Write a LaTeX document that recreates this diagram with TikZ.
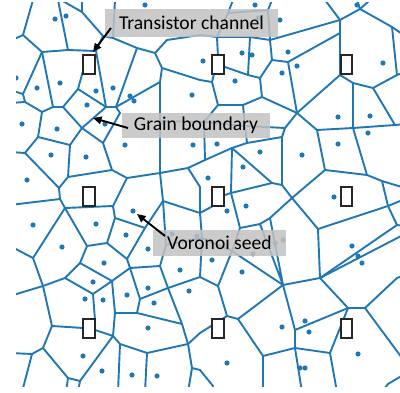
\documentclass[tikz,border=0pt]{standalone}
\usepackage{fontspec}
\setmainfont{Carlito}
\usetikzlibrary{arrows.meta}
\definecolor{vblue}{RGB}{31,119,180}
\begin{document}
\begin{tikzpicture}[x=1pt,y=-1pt,
  cell/.style={draw=vblue, line width=1.9pt, line join=round, line cap=round},
  seed/.style={fill=vblue},
  chan/.style={draw=black!85, line width=1.6pt, fill=white, minimum width=11.5pt, minimum height=19pt, inner sep=0pt},
  lbl/.style={fill=black!24, fill opacity=0.85, text opacity=1, inner sep=0pt, font=\fontsize{19.6}{22}\selectfont},
  ptr/.style={-{Triangle[length=8.5pt,width=7.5pt]}, line width=1.9pt, black}]
\useasboundingbox (0,0) rectangle (400,393);

\begin{scope}
\clip (16,3) rectangle (400,387);
% Voronoi cell boundaries
\draw[cell] (33,0)--(23,35)--(42,52)--(68,50)--(96,51)--(103,36)--(113,38)--(137,48)--(155,53)--(167,40)--(200,35)--(217,37)--(250,37)--(270,40)--(340,20);
\draw[cell] (23,35)--(10,41);
\draw[cell] (58,0)--(68,50);
\draw[cell] (61,0)--(82,12)--(103,36);
\draw[cell] (82,0)--(82,12);
\draw[cell] (113,38)--(115,0);
\draw[cell] (96,51)--(106,107);
\draw[cell] (137,48)--(116,107);
\draw[cell] (155,53)--(162,68)--(200,80)--(212,82);
\draw[cell] (162,68)--(160,82)--(160,121)--(160,173)--(163,201);
\draw[cell] (42,52)--(53,107);
\draw[cell] (42,52)--(23,94)--(25,102)--(42,112)--(53,107)--(63,107)--(78,89)--(85,64);
\draw[cell] (23,94)--(10,90);
\draw[cell] (25,102)--(10,103);
\draw[cell] (78,89)--(106,107)--(116,107)--(120,113)--(103,143);
\draw[cell] (63,107)--(82,128)--(106,107);
\draw[cell] (82,128)--(103,143)--(112,170);
\draw[cell] (42,112)--(38,137)--(70,145)--(82,128);
\draw[cell] (38,137)--(25,153)--(10,152);
\draw[cell] (25,153)--(59,188)--(60,199)--(65,208)--(113,206);
\draw[cell] (70,145)--(68,177)--(59,188);
\draw[cell] (68,177)--(112,170)--(127,178)--(160,173);
\draw[cell] (127,178)--(113,206);
\draw[cell] (116,107)--(160,82);
\draw[cell] (130,95)--(134,101);
\draw[cell] (160,121)--(204,122)--(245,126)--(285,128);
\draw[cell] (204,122)--(218,105)--(243,105)--(262,97)--(260,78)--(272,60)--(270,40);
\draw[cell] (212,82)--(218,105);
\draw[cell] (212,82)--(216,66);
\draw[cell] (222,66)--(248,75)--(260,78);
\draw[cell] (250,37)--(248,75);
\draw[cell] (272,60)--(288,62)--(340,33);
\draw[cell] (288,62)--(297,113);
\draw[cell] (262,97)--(297,113)--(340,75);
\draw[cell] (340,20)--(340,75);
\draw[cell] (243,105)--(245,126)--(247,143)--(282,137)--(285,128)--(297,113);
\draw[cell] (282,137)--(282,185);
\draw[cell] (160,173)--(188,168)--(205,160)--(232,148)--(247,143);
\draw[cell] (204,122)--(205,160);
\draw[cell] (232,148)--(272,183)--(282,185)--(292,198);
\draw[cell] (232,148)--(231,193)--(240,228);
\draw[cell] (231,193)--(272,183);
\draw[cell] (231,193)--(222,196);
\draw[cell] (188,168)--(200,187)--(200,213)--(213,206);
\draw[cell] (163,201)--(200,213);
\draw[cell] (163,201)--(145,228)--(115,218)--(113,206);
\draw[cell] (115,218)--(107,243)--(87,246)--(65,208);
\draw[cell] (107,243)--(127,259)--(145,228);
\draw[cell] (127,259)--(130,268)--(160,266)--(166,245)--(163,201);
\draw[cell] (166,245)--(202,238)--(232,251);
\draw[cell] (200,213)--(202,238)--(200,277);
\draw[cell] (240,228)--(232,251)--(218,286);
\draw[cell] (232,251)--(283,285);
\draw[cell] (240,228)--(260,224)--(270,218)--(292,198);
\draw[cell] (260,224)--(283,285)--(270,218);
\draw[cell] (292,198)--(318,229)--(388,206)--(405,199);
\draw[cell] (325,170)--(292,198);
\draw[cell] (318,229)--(320,278)--(283,285);
\draw[cell] (320,278)--(397,225)--(388,206);
\draw[cell] (397,225)--(405,226);
\draw[cell] (320,278)--(405,234);
\draw[cell] (320,278)--(348,308)--(365,308)--(397,278)--(405,275);
\draw[cell] (365,308)--(405,362);
\draw[cell] (348,308)--(295,330);
\draw[cell] (348,308)--(330,353)--(295,348);
\draw[cell] (330,353)--(337,392);
\draw[cell] (295,348)--(302,392);
\draw[cell] (283,285)--(295,330)--(295,348);
\draw[cell] (238,319)--(283,285);
\draw[cell] (218,286)--(227,316)--(238,319);
\draw[cell] (227,316)--(200,333)--(188,344);
\draw[cell] (238,319)--(263,356)--(295,348);
\draw[cell] (263,356)--(263,392);
\draw[cell] (218,286)--(200,277)--(168,288)--(160,266);
\draw[cell] (168,288)--(140,299)--(130,268);
\draw[cell] (168,288)--(182,324)--(188,344);
\draw[cell] (140,299)--(137,313)--(182,324);
\draw[cell] (112,281)--(130,268);
\draw[cell] (112,281)--(115,313)--(137,313);
\draw[cell] (115,313)--(113,336)--(95,330);
\draw[cell] (113,336)--(120,344)--(147,353)--(188,344);
\draw[cell] (120,344)--(118,392);
\draw[cell] (147,353)--(145,392);
\draw[cell] (188,344)--(192,368)--(188,392);
\draw[cell] (192,368)--(200,370)--(213,386)--(213,392);
\draw[cell] (113,336)--(80,381)--(78,392);
\draw[cell] (80,381)--(68,378)--(43,348)--(52,326)--(83,328);
\draw[cell] (68,378)--(66,392);
\draw[cell] (43,348)--(32,354)--(10,353);
\draw[cell] (32,354)--(22,392);
\draw[cell] (52,326)--(43,286)--(33,258)--(65,208);
\draw[cell] (33,258)--(10,246);
\draw[cell] (43,286)--(10,296);
\draw[cell] (43,286)--(65,278)--(80,263)--(87,246);
\draw[cell] (80,263)--(112,281)--(93,294)--(65,278);
\draw[cell] (93,294)--(95,320);
\draw[cell] (60,199)--(10,205);
\draw[cell] (325,0)--(340,20)--(360,9)--(357,0);
\draw[cell] (360,9)--(370,0);
\draw[cell] (360,9)--(392,27)--(405,36);
\draw[cell] (392,27)--(397,75)--(405,72);
\draw[cell] (340,75)--(353,83)--(373,88)--(397,75);
\draw[cell] (373,88)--(395,125)--(405,124);
\draw[cell] (353,83)--(353,128)--(395,125);
\draw[cell] (297,113)--(317,130)--(353,128);
\draw[cell] (353,128)--(367,175)--(382,181)--(388,206);
\draw[cell] (382,181)--(405,188);
\draw[cell] (317,130)--(325,170)--(367,175);
\draw[cell] (233,0)--(228,13)--(268,10)--(272,0);
\draw[cell] (268,10)--(270,40);
\draw[cell] (228,13)--(217,37)--(218,57);
\draw[cell] (382,392)--(388,384)--(405,374);

% Voronoi seeds
\foreach \x/\y in {55/19,66/16,16/78,37/88,60/83,96/91,113/88,130/96,134/101,192/95,
  87/105,105/124,22/124,57/129,125/145,193/145,51/155,86/157,27/180,145/5,
  203/61,242/53,252/55,288/52,297/66,282/73,235/81,338/117,370/116,368/133,
  338/144,260/152,217/144,302/155,208/178,243/167,334/197,383/63,280/20,258/18,
  357/5,255/5,33/225,62/247,96/224,126/235,148/249,104/263,133/211,93/282,
  85/299,103/300,127/295,148/288,154/303,180/270,189/291,148/328,83/356,102/371,
  132/375,157/376,172/234,197/236,227/211,246/206,352/246,358/256,362/263,242/272,
  305/321,309/332,282/327,227/363,358/354,300/368,305/368,275/243,283/240,212/260,253/254}
  \fill[seed] (\x,\y) circle[radius=2.6pt];
\end{scope}

% transistor channels
\foreach \c/\x in {1/89,2/218,3/346.5}{
  \node[chan] (ch1\c) at (\x,64.5) {};
  \node[chan] (ch2\c) at (\x,196.5) {};
  \node[chan] (ch3\c) at (\x,328.5) {};
}

% labels
\node[lbl, minimum width=173pt, minimum height=28pt] (labT) at (191.5,23) {Transistor channel};
\node[lbl, minimum width=148pt, minimum height=25pt] (labG) at (196,125.5) {Grain boundary};
\node[lbl, minimum width=133pt, minimum height=26pt] (labV) at (219.5,243) {Voronoi seed};

% pointers
\coordinate (tT) at (111,28);  \coordinate (hT) at (93,52);
\coordinate (tG) at (128,128); \coordinate (hG) at (93,118);
\coordinate (tV) at (165,236); \coordinate (hV) at (137,214);
\draw[ptr] (tT) -- (hT);
\draw[ptr] (tG) -- (hG);
\draw[ptr] (tV) -- (hV);
\end{tikzpicture}
\end{document}
